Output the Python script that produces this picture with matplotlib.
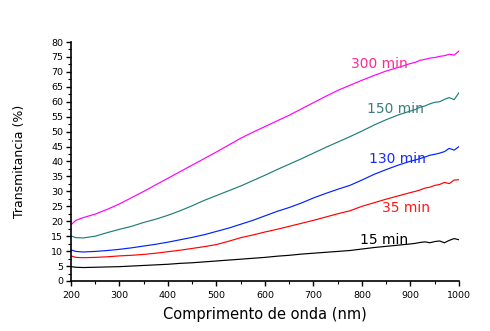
import matplotlib
matplotlib.use("Agg")
import matplotlib.pyplot as plt
from matplotlib.ticker import MultipleLocator

# wavelength grid (nm)
wl = [200, 210, 225, 250, 275, 300, 325, 350, 375, 400, 425, 450, 475, 500,
      525, 550, 575, 600, 625, 650, 675, 700, 725, 750, 775, 800, 825, 850,
      875, 900, 910, 920, 930, 940, 950, 960, 970, 980, 990, 1000]

# transmittance (%)
t15 = [4.8, 4.6, 4.5, 4.6, 4.7, 4.8, 5.0, 5.2, 5.4, 5.6, 5.9, 6.1, 6.4, 6.7,
       7.0, 7.3, 7.6, 7.9, 8.3, 8.6, 9.0, 9.3, 9.6, 9.9, 10.2, 10.7, 11.2, 11.6,
       12.0, 12.4, 12.6, 12.9, 13.1, 12.8, 13.2, 13.4, 12.8, 13.6, 14.2, 13.8]
t35 = [8.4, 7.9, 7.8, 7.9, 8.1, 8.4, 8.6, 8.9, 9.3, 9.8, 10.3, 10.9, 11.5, 12.2,
       13.3, 14.5, 15.4, 16.4, 17.3, 18.3, 19.3, 20.3, 21.4, 22.5, 23.5, 25.0,
       26.2, 27.4, 28.5, 29.6, 30.0, 30.5, 31.1, 31.4, 32.0, 32.3, 33.0, 32.6,
       33.8, 33.9]
t130 = [10.4, 9.9, 9.7, 9.9, 10.2, 10.6, 11.1, 11.7, 12.3, 13.0, 13.8, 14.6,
        15.5, 16.6, 17.7, 19.0, 20.3, 21.8, 23.3, 24.6, 26.1, 27.8, 29.3, 30.7,
        32.0, 33.8, 35.7, 37.3, 38.8, 40.1, 40.5, 41.0, 41.5, 42.1, 42.4, 42.8,
        43.3, 44.4, 43.8, 45.0]
t150 = [15.1, 14.5, 14.4, 15.0, 16.2, 17.3, 18.3, 19.6, 20.7, 22.0, 23.5, 25.2,
        27.0, 28.6, 30.2, 31.8, 33.6, 35.4, 37.3, 39.1, 40.9, 42.8, 44.7, 46.5,
        48.3, 50.2, 52.2, 54.0, 55.6, 56.9, 57.4, 58.2, 58.6, 59.3, 59.8, 60.0,
        60.8, 61.4, 60.7, 63.0]
t300 = [18.8, 20.3, 21.2, 22.4, 24.0, 25.8, 27.9, 30.0, 32.2, 34.4, 36.6, 38.8,
        41.0, 43.2, 45.5, 47.8, 49.8, 51.7, 53.6, 55.5, 57.6, 59.7, 61.8, 63.8,
        65.5, 67.2, 68.8, 70.3, 71.5, 72.8, 73.2, 73.9, 74.2, 74.6, 74.8, 75.2,
        75.4, 75.9, 75.6, 77.0]

labels = ["15 min", "35 min", "130 min", "150 min", "300 min"]
series = [t15, t35, t130, t150, t300]
colors = ["black", "#ff0000", "#0022ff", "#1f7f7a", "#ff00ff"]
label_colors = ["black", "#ff1a1a", "#1a2aff", "#3a7f7a", "#ff2a8f"]
label_pos = [(846, 13.8), (890, 24.5), (874, 40.9), (869, 57.7), (836, 72.8)]

fig = plt.figure(figsize=(4.9, 3.31), dpi=100)
ax = fig.add_axes([0.1449, 0.1511, 0.7918, 0.7220])

for y, c in zip(series, colors):
    ax.plot(wl, y, color=c, lw=0.85)

for txt, c, (x, y) in zip(labels, label_colors, label_pos):
    ax.text(x, y, txt, color=c, fontsize=10, ha="center", va="center")

ax.set_xlim(200, 1000)
ax.set_ylim(0, 80)
ax.xaxis.set_major_locator(MultipleLocator(100))
ax.xaxis.set_minor_locator(MultipleLocator(50))
ax.yaxis.set_major_locator(MultipleLocator(5))
ax.yaxis.set_minor_locator(MultipleLocator(2.5))
ax.tick_params(which="major", direction="out", length=3.5, width=1, labelsize=6.8, pad=2)
ax.tick_params(axis="x", which="major", pad=3.5)
ax.tick_params(which="minor", direction="out", length=2, width=0.8)

for s in ["top", "right"]:
    ax.spines[s].set_visible(False)
for s in ["left", "bottom"]:
    ax.spines[s].set_linewidth(1.2)

ax.set_xlabel("Comprimento de onda (nm)", fontsize=10.5, labelpad=5)
ax.set_ylabel("Transmitancia (%)", fontsize=9, labelpad=18)

fig.savefig("out.png", dpi=100)
